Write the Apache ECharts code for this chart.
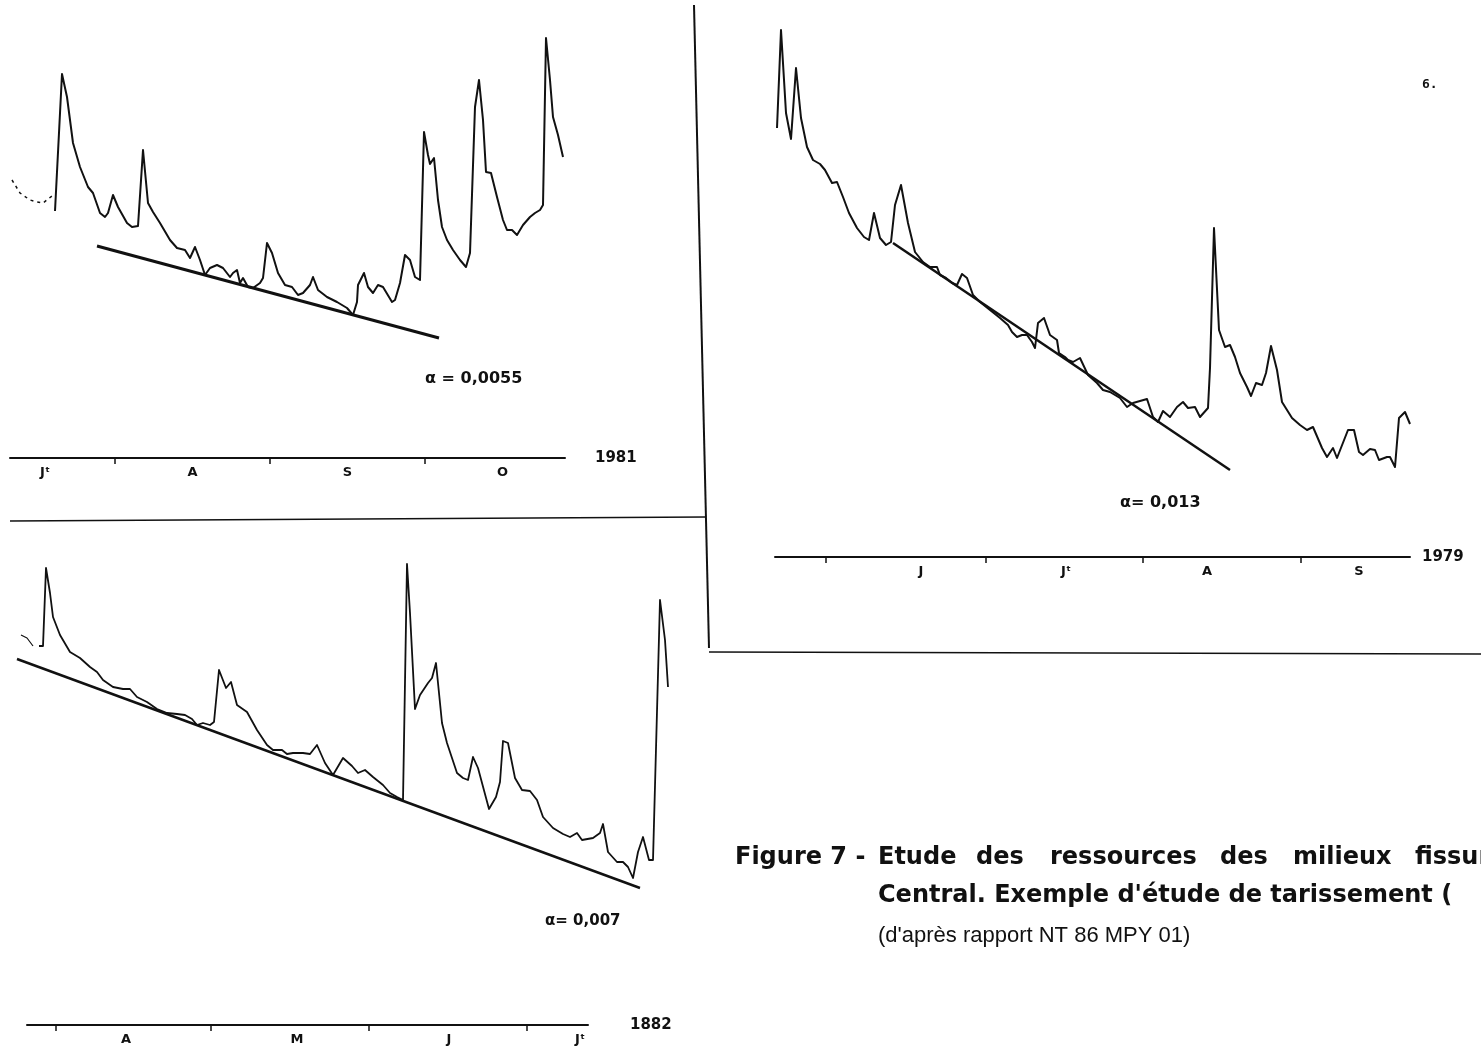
<!DOCTYPE html>
<html>
<head>
<meta charset="utf-8">
<title>Figure 7 - Etude de tarissement</title>
<script src="https://cdn.jsdelivr.net/npm/echarts@6/dist/echarts.min.js"></script>
<style>
	* { margin: 0; padding: 0; }
	html, body { background: #fff; }
	#main { width: 1481px; height: 1046px; }
</style>
</head>
<body>
<div id="main"></div>
<script type="text/javascript">
	// x = jours depuis le debut de l'axe, y = debit (unites du graphique)

	// ---- 1981 ----
	var flow1981Early = [[0.4,279],[2,266],[4,259],[5.4,257],[6.6,256],[8.4,263]];
	var flow1981 = [[9,248],[10.4,385],[11.4,362],[12.6,316],[14,292],[15.6,272],[16.6,266],[18,246],[19,242],[19.6,246],
		[20.6,264],[21.6,252],[23.4,236],[24.4,232],[25.6,233],[26.6,309],[27.6,256],[28.6,247],[30,236],[32,219],
		[33.4,211],[35,209],[36,201],[37,212],[38,199],[39,184],[40,191],[41.4,194],[42.6,191],[44,182],
		[44.6,186],[45.4,189],[46,176],[46.6,181],[47.6,172],[48.6,171],[50,176],[50.6,181],[51.4,216],[52.4,206],
		[53.6,186],[55,174],[56.4,172],[57.6,164],[58.6,166],[60,174],[60.6,182],[61.6,169],[63.4,162],[65.4,157],
		[67.4,151],[68.6,144],[69.4,157],[69.6,174],[70.8,186],[71.6,172],[72.6,166],[73.6,174],[74.6,172],[76.4,157],
		[77,159],[78,176],[79,204],[80,199],[81,182],[82,179],[82.8,327],[83.6,304],[84,295],[84.8,301],
		[85.6,259],[86.4,232],[87.4,219],[88.6,209],[90,199],[91.2,192],[92,206],[93,352],[93.8,379],[94.6,339],
		[95.2,287],[96.2,286],[97.4,262],[98.6,239],[99.4,229],[100.4,229],[101.4,224],[102.6,234],[104,242],[105,246],
		[106,249],[106.6,254],[107.2,421],[108,379],[108.6,342],[109.6,324],[110.6,302]];
	var recess1981 = [[17.4,213],[85.8,121]];
	var monthStart1981 = [21, 52, 83];
	var monthMid1981 = [7, 36.5, 67.5, 98.5];
	var monthName1981 = ['J\u1d57', 'A', 'S', 'O'];
	var alpha1981 = '\u03b1 = 0,0055';

	// ---- 1979 ----
	var flow1979 = [[0.4,429],[1.2,527],[2.2,444],[3.2,418],[4.2,489],[5.2,439],[6.4,410],[7.6,397],[9,393],[10,387],
		[11.4,374],[12.4,375],[13.6,360],[14.8,344],[16.4,329],[17.8,320],[18.8,317],[19.8,344],[21,319],[22.2,312],
		[23.2,315],[24,352],[25.2,372],[26.6,334],[28,305],[29.6,295],[31,290],[32.4,290],[33,282],[34.2,279],
		[35.4,274],[36.4,272],[37.4,283],[38.4,279],[39.6,262],[41,255],[43,247],[45,239],[46.6,232],[47.4,225],
		[48.4,220],[49.4,222],[50.4,222],[51.4,215],[52,209],[52.6,234],[53.8,239],[55,222],[56.4,217],[56.8,204],
		[58,200],[58.6,197],[59.6,195],[61,199],[62.6,182],[64.4,174],[65.6,167],[67,165],[69,159],[70.4,150],
		[71.6,154],[74.4,158],[75.6,140],[76.6,135],[77.6,146],[79,140],[80.4,150],[81.6,155],[82.6,149],[84,150],
		[85,140],[86.6,149],[87,189],[87.8,329],[88.8,227],[90,210],[91,212],[92,200],[93,184],[94.4,170],
		[95.2,161],[96.2,174],[97.4,172],[98.2,184],[99.2,211],[100.4,187],[101.4,155],[103.4,139],[105,132],[106.4,127],
		[107.6,130],[109.4,109],[110.4,100],[111.6,109],[112.4,99],[114.6,127],[115.8,127],[116.8,105],[117.6,102],[119,108],
		[120,107],[120.8,97],[122.4,100],[123,100],[124,90],[124.8,139],[126,145],[127,133]];
	var recess1979 = [[23.6,314],[91,87]];
	var monthStart1979 = [10.2, 42.2, 73.6, 105.2];
	var monthMid1979 = [29.2, 58.2, 86.4, 116.8];
	var monthName1979 = ['J', 'J\u1d57', 'A', 'S'];
	var alpha1979 = '\u03b1= 0,013';

	// ---- 1882 (sic) ----
	var flow1882Early = [[1.2,392],[2.4,389],[3.6,381]];
	var flow1882 = [[4.8,381],[5.6,381],[6.2,459],[7,434],[7.6,410],[9,392],[11,375],[13,369],[15,360],[16.4,355],
		[17.6,347],[19.6,340],[21.6,338],[23,338],[24.4,330],[26.4,325],[28.4,318],[30.4,314],[32.4,313],[34,312],
		[35.4,308],[36.4,302],[37.6,304],[39,302],[39.8,305],[40.8,357],[42.2,339],[43.2,345],[44.4,322],[46.4,315],
		[48.4,297],[50.4,282],[51.6,277],[53.4,277],[54.4,273],[55.6,274],[57.6,274],[59,273],[60.4,282],[62,264],
		[63.6,252],[65.6,269],[67.4,261],[68.6,254],[70,257],[71.6,250],[73.6,242],[75,234],[76.4,230],[77.6,227],
		[78.4,463],[79,414],[80,318],[81,332],[82.6,344],[83.4,349],[84.2,364],[85.4,304],[86.4,284],[88.4,254],
		[89.6,249],[90.6,247],[91.6,270],[92.6,259],[94.8,218],[96.2,230],[97,245],[97.6,286],[98.6,284],[100,249],
		[101.4,237],[103,236],[104.4,227],[105.6,210],[107.6,199],[109.6,193],[111,190],[112.4,194],[113.4,187],[115.6,189],
		[117,194],[117.6,203],[118.6,175],[120.4,165],[121.6,165],[122.6,160],[123.6,149],[124.6,175],[125.6,190],[126.8,167],
		[127.6,167],[129,427],[130,387],[130.6,340]];
	var recess1882 = [[0.4,368],[125,139]];
	var monthStart1882 = [8.2, 39.2, 70.8, 102.4];
	var monthMid1882 = [22.2, 56.4, 86.8, 113];
	var monthName1882 = ['A', 'M', 'J', 'J\u1d57'];
	var alpha1882 = '\u03b1= 0,007';

	var captionWords = ['Figure 7 -', 'Etude', 'des', 'ressources', 'des', 'milieux', 'fissur\u00e9s'];
	var captionLine2 = 'Central. Exemple d\'\u00e9tude de tarissement (';
	var captionLine3 = '(d\'apr\u00e8s rapport NT 86 MPY 01)';

	var HAND = 'DejaVu Sans';
	var INK = '#111';

	function dataAxes(max) {
		return { type: 'value', min: 0, max: max, show: false };
	}
	function timeAxis(grid, min, max, starts, mids, names, year, gap) {
		return {
			type: 'value', gridIndex: grid, min: min, max: max, position: 'bottom',
			axisLine: { show: true, lineStyle: { color: INK, width: 2 } },
			axisTick: { show: true, customValues: starts, length: 6, lineStyle: { color: INK, width: 1.5 } },
			axisLabel: {
				customValues: mids, margin: 8, color: INK, fontFamily: HAND, fontWeight: 'bold', fontSize: 13,
				formatter: function (v) { var i = mids.indexOf(v); return i < 0 ? '' : names[i]; }
			},
			splitLine: { show: false },
			name: year, nameLocation: 'end', nameGap: gap,
			nameTextStyle: { color: INK, fontFamily: HAND, fontWeight: 'bold', fontSize: 15, padding: [0, 0, 14, 0] }
		};
	}
	function lineSeries(grid, data, width, dashed) {
		return {
			type: 'line', xAxisIndex: grid, yAxisIndex: grid, data: data, symbol: 'none', silent: true,
			animation: false,
			lineStyle: { color: INK, width: width, type: dashed ? [3, 4] : 'solid', join: 'round' }
		};
	}
	function captionText(x, y, txt, font) {
		return { type: 'text', left: x, top: y, style: { text: txt, fill: INK, font: font } };
	}

	var myChart = echarts.init(document.getElementById('main'));

	var CAP = 'bold 24px ' + HAND;
	var option = {
		backgroundColor: '#fff',
		animation: false,
		grid: [
			{ left: 10, top: 9, width: 560, height: 450 },
			{ left: 10, top: 448, width: 555, height: 10 },
			{ left: 775, top: 7, width: 640, height: 550 },
			{ left: 775, top: 547, width: 635, height: 10 },
			{ left: 15, top: 527, width: 660, height: 500 },
			{ left: 27, top: 1017, width: 561, height: 10 }
		],
		xAxis: [
			Object.assign(dataAxes(112), { gridIndex: 0 }),
			timeAxis(1, 0, 111, monthStart1981, monthMid1981, monthName1981, '1981', 30),
			Object.assign(dataAxes(128), { gridIndex: 2 }),
			timeAxis(3, 0, 127, monthStart1979, monthMid1979, monthName1979, '1979', 12),
			Object.assign(dataAxes(132), { gridIndex: 4 }),
			timeAxis(5, 2.4, 114.6, monthStart1882, monthMid1882, monthName1882, '1882', 42)
		],
		yAxis: [
			Object.assign(dataAxes(450), { gridIndex: 0 }),
			Object.assign(dataAxes(1), { gridIndex: 1 }),
			Object.assign(dataAxes(550), { gridIndex: 2 }),
			Object.assign(dataAxes(1), { gridIndex: 3 }),
			Object.assign(dataAxes(500), { gridIndex: 4 }),
			Object.assign(dataAxes(1), { gridIndex: 5 })
		],
		series: [
			lineSeries(0, flow1981Early, 1.5, true),
			lineSeries(0, flow1981, 2),
			lineSeries(0, recess1981, 3),
			lineSeries(2, flow1979, 2),
			lineSeries(2, recess1979, 2.5),
			lineSeries(4, flow1882Early, 1.2),
			lineSeries(4, flow1882, 1.8),
			lineSeries(4, recess1882, 2.5)
		],
		graphic: [
			// cadres
			{ type: 'line', shape: { x1: 694, y1: 5, x2: 709, y2: 648 }, style: { stroke: INK, lineWidth: 2 } },
			{ type: 'line', shape: { x1: 10, y1: 521, x2: 706, y2: 517 }, style: { stroke: INK, lineWidth: 1.5 } },
			{ type: 'line', shape: { x1: 709, y1: 652, x2: 1481, y2: 654 }, style: { stroke: INK, lineWidth: 1.5 } },
			// coefficients de tarissement
			{ type: 'text', left: 425, top: 371, style: { text: alpha1981, fill: INK, font: 'bold 16px ' + HAND } },
			{ type: 'text', left: 1120, top: 495, style: { text: alpha1979, fill: INK, font: 'bold 16px ' + HAND } },
			{ type: 'text', left: 545, top: 914, style: { text: alpha1882, fill: INK, font: 'bold 15px ' + HAND } },
			{ type: 'text', left: 1422, top: 78, style: { text: '6.', fill: INK, font: 'bold 13px "DejaVu Sans Mono"' } },
			// legende
			captionText(735, 846, captionWords[0], CAP),
			captionText(878, 846, captionWords[1], CAP),
			captionText(976, 846, captionWords[2], CAP),
			captionText(1050, 846, captionWords[3], CAP),
			captionText(1220, 846, captionWords[4], CAP),
			captionText(1293, 846, captionWords[5], CAP),
			captionText(1415, 846, captionWords[6], CAP),
			captionText(878, 884, captionLine2, CAP),
			captionText(878, 925, captionLine3, '22px "Liberation Sans"')
		]
	};

	myChart.setOption(option);
</script>
</body>
</html>
